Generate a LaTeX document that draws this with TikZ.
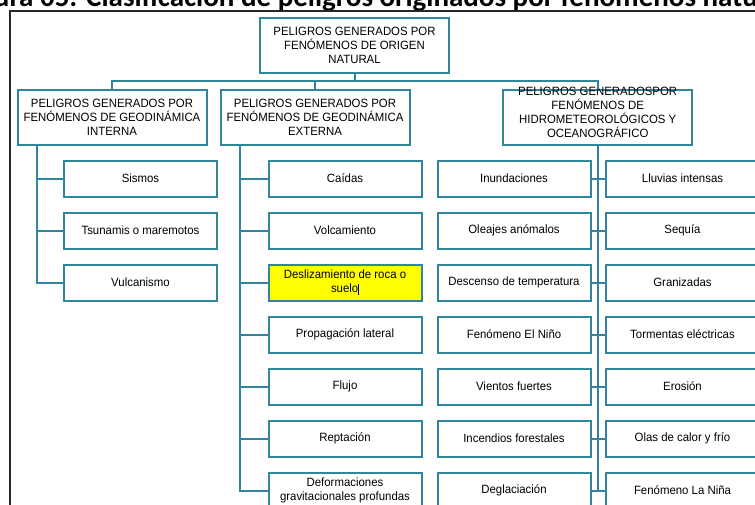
\documentclass[tikz,border=0pt]{standalone}
\usepackage{fontspec}
\setmainfont[FakeStretch=0.95]{Liberation Sans}
\newfontfamily\titlefont{Carlito}
\definecolor{boxc}{HTML}{31859C}
\definecolor{hilite}{HTML}{FFFF00}
\tikzset{
  box/.style={draw=boxc, line width=2pt, fill=white, inner sep=0pt,
    align=center, text=black, font=\fontsize{12}{14}\selectfont},
  headbox/.style={box, minimum width=189pt, minimum height=55pt},
  leaf/.style={box, minimum width=153pt, minimum height=36pt},
  conn/.style={draw=boxc, line width=2pt},
}
\begin{document}
\begin{tikzpicture}[x=1pt,y=-1pt]
\clip (0,0) rectangle (755,504);
\fill[white] (0,0) rectangle (755,504);
% title (cut off at the top)
\node[anchor=base west, inner sep=0pt, font=\titlefont\bfseries\fontsize{29}{30}\selectfont]
  (title) at (86,6) {\llap{Figura 05: }Clasificación de peligros originados por fenómenos naturales};
% frame
\draw[line width=2pt, black!85] (10,530) -- (10,11) -- (780,11);
% level 0 and 1
\node[headbox] (top) at (354.5,45.5) {PELIGROS GENERADOS POR\\FENÓMENOS DE ORIGEN\\NATURAL};
\node[headbox] (L) at (112,117) {PELIGROS GENERADOS POR\\FENÓMENOS DE GEODINÁMICA\\INTERNA};
\node[headbox] (M) at (315,117) {PELIGROS GENERADOS POR\\FENÓMENOS DE GEODINÁMICA\\EXTERNA};
\node[headbox] (R) at (597.7,117) {\\[-20pt]PELIGROS GENERADOSPOR\\FENÓMENOS DE\\HIDROMETEOROLÓGICOS Y\\OCEANOGRÁFICO};
% bus
\coordinate (busy) at (0,81);
\draw[conn] (top.south) -- (top.south |- busy) -| (L.north);
\draw[conn] (top.south |- busy) -| (R.north);
\draw[conn] (M.north) -- (M.north |- busy);
% column A
\node[leaf] (a1) at (140.5,178.5) {Sismos};
\node[leaf] (a2) at (140.5,230.5) {Tsunamis o maremotos};
\node[leaf] (a3) at (140.5,282.5) {Vulcanismo};
% column B
\node[leaf] (b1) at (345,178.5) {Caídas};
\node[leaf] (b2) at (345,230.5) {Volcamiento};
\node[leaf, fill=hilite] (b3) at (345,282.5) {Deslizamiento de roca o\\suelo\rule[-2pt]{0.7pt}{11pt}};
\node[leaf] (b4) at (345,334.5) {Propagación lateral};
\node[leaf] (b5) at (345,386.5) {Flujo};
\node[leaf] (b6) at (345,438.5) {Reptación};
\node[leaf] (b7) at (345,490.5) {Deformaciones\\gravitacionales profundas};
% column C
\node[leaf] (c1) at (514,178.5) {Inundaciones};
\node[leaf] (c2) at (514,230.5) {Oleajes anómalos};
\node[leaf] (c3) at (514,282.5) {Descenso de temperatura};
\node[leaf] (c4) at (514,334.5) {Fenómeno El Niño};
\node[leaf] (c5) at (514,386.5) {Vientos fuertes};
\node[leaf] (c6) at (514,438.5) {Incendios forestales};
\node[leaf] (c7) at (514,490.5) {Deglaciación};
% column D
\node[leaf] (d1) at (682.5,178.5) {Lluvias intensas};
\node[leaf] (d2) at (682.5,230.5) {Sequía};
\node[leaf] (d3) at (682.5,282.5) {Granizadas};
\node[leaf] (d4) at (682.5,334.5) {Tormentas eléctricas};
\node[leaf] (d5) at (682.5,386.5) {Erosión};
\node[leaf] (d6) at (682.5,438.5) {Olas de calor y frío};
\node[leaf] (d7) at (682.5,490.5) {Fenómeno La Niña};
% spines
\coordinate (sA) at (37,0);
\coordinate (sB) at (240,0);
\draw[conn] (L.south -| sA) |- (a3.west);
\foreach \i in {1,2} \draw[conn] (sA |- a\i.west) -- (a\i.west);
\draw[conn] (M.south -| sB) |- (b7.west);
\foreach \i in {1,...,6} \draw[conn] (sB |- b\i.west) -- (b\i.west);
\draw[conn] (R.south) -- (R.south |- c7.east);
\foreach \i in {1,...,7} \draw[conn] (c\i.east) -- (d\i.west);
\end{tikzpicture}
\end{document}
